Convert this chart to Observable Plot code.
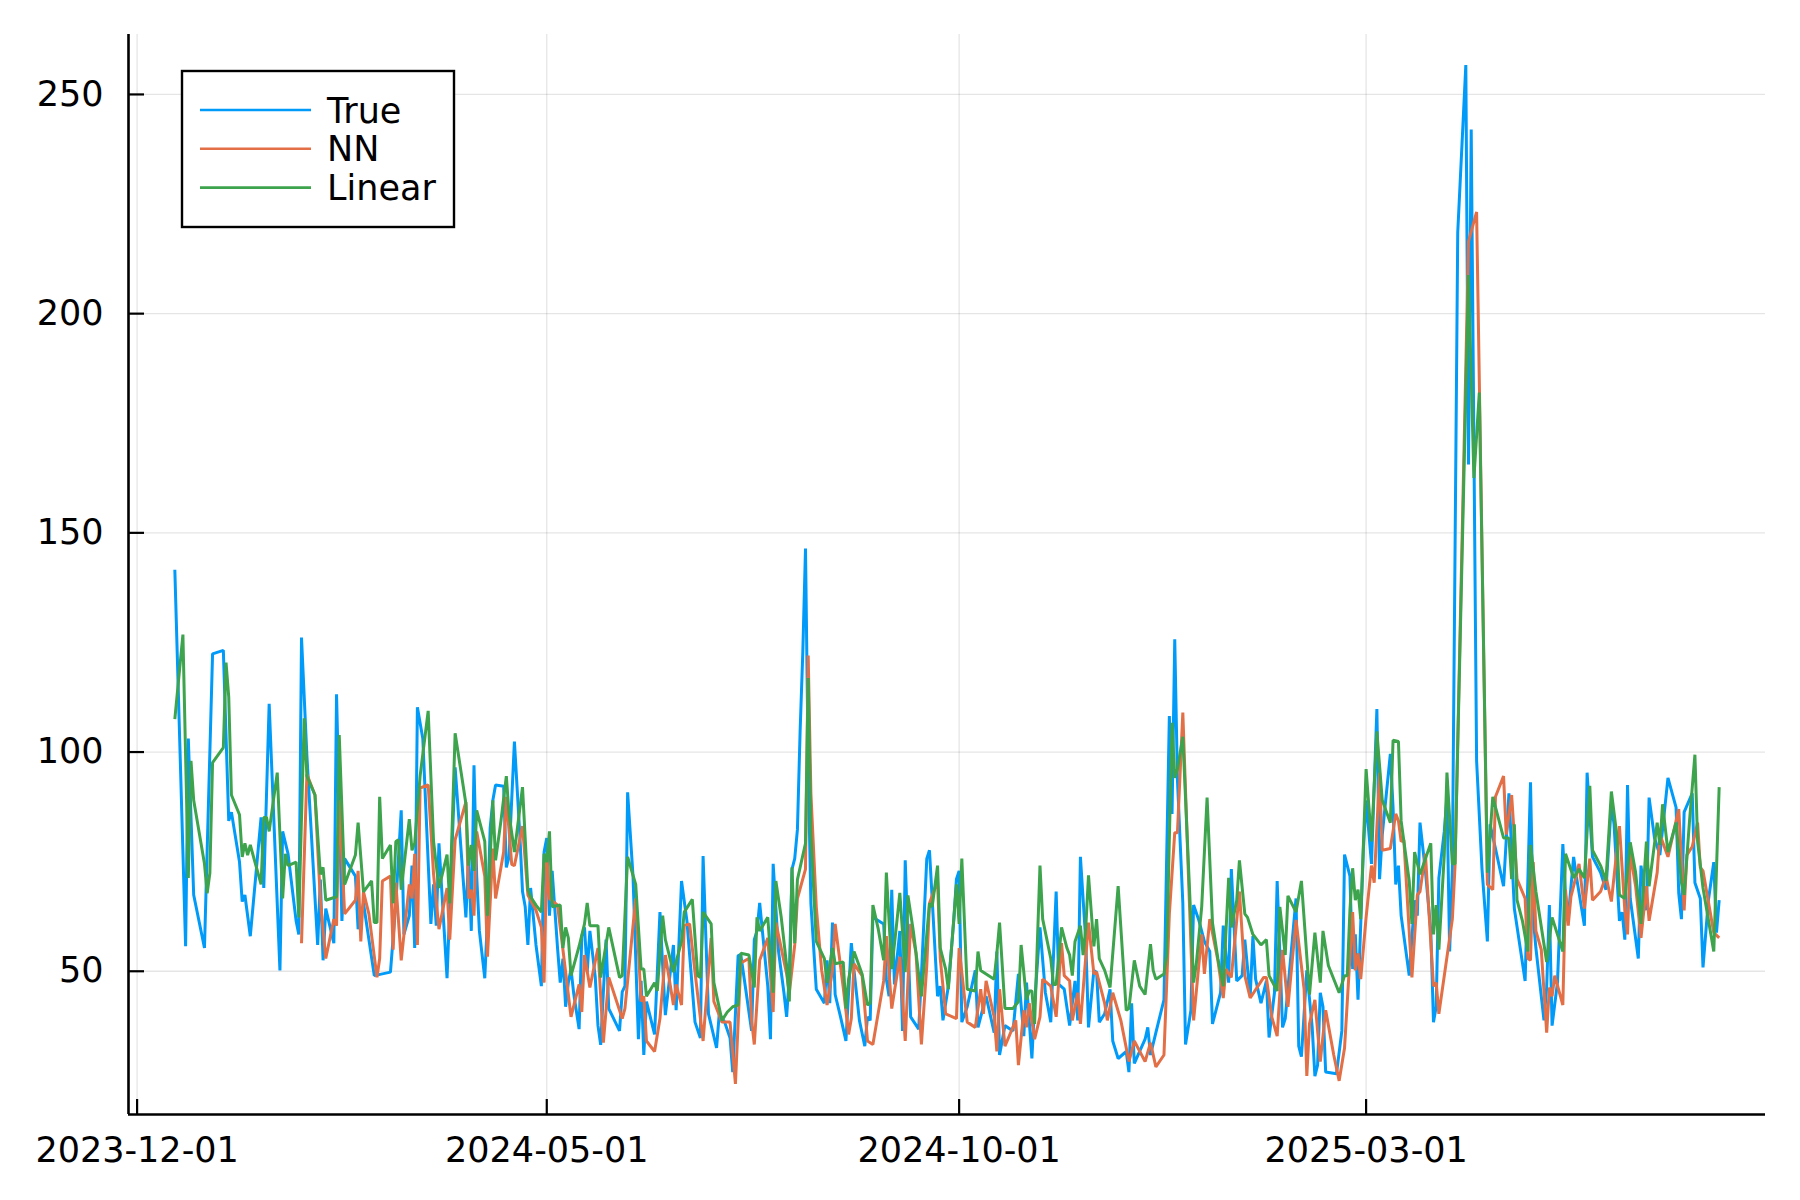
<!DOCTYPE html>
<html>
<head>
<meta charset="utf-8">
<script src="https://cdn.jsdelivr.net/npm/d3@7"></script>
<script src="https://cdn.jsdelivr.net/npm/@observablehq/plot@0.6"></script>
<style>
  body { margin: 0; background: #fff; }
  #chart { width: 1800px; height: 1200px; }
</style>
</head>
<body>
<div id="chart"></div>
<script>
const seriesNames = ["True", "NN", "Linear"];

const trueSeries = [["2023-12-15",141.6],["2023-12-19",55.7],["2023-12-20",103.1],["2023-12-22",67.4],["2023-12-26",55.3],["2023-12-29",122.4],["2024-01-02",123.2],["2024-01-04",84.3],["2024-01-05",86.3],["2024-01-08",74.9],["2024-01-09",65.9],["2024-01-10",67.4],["2024-01-12",58.0],["2024-01-16",85.1],["2024-01-17",69.0],["2024-01-19",111.0],["2024-01-23",50.2],["2024-01-24",81.9],["2024-01-26",76.8],["2024-01-29",61.5],["2024-01-30",58.4],["2024-01-31",126.1],["2024-02-02",99.2],["2024-02-06",56.0],["2024-02-07",70.9],["2024-02-08",52.5],["2024-02-09",64.3],["2024-02-12",56.4],["2024-02-13",113.2],["2024-02-15",61.5],["2024-02-16",75.7],["2024-02-20",71.7],["2024-02-21",59.6],["2024-02-23",65.5],["2024-02-27",49.0],["2024-03-04",49.8],["2024-03-06",65.5],["2024-03-08",86.7],["2024-03-09",58.4],["2024-03-11",62.7],["2024-03-12",74.1],["2024-03-13",55.3],["2024-03-14",110.2],["2024-03-16",103.1],["2024-03-19",60.8],["2024-03-20",69.8],["2024-03-21",60.4],["2024-03-22",79.2],["2024-03-25",48.4],["2024-03-28",96.5],["2024-04-01",62.3],["2024-04-02",76.5],["2024-04-03",59.2],["2024-04-04",97.0],["2024-04-05",71.7],["2024-04-06",59.2],["2024-04-08",48.4],["2024-04-09",62.3],["2024-04-10",82.7],["2024-04-11",89.0],["2024-04-12",92.5],["2024-04-15",92.2],["2024-04-16",73.7],["2024-04-17",76.1],["2024-04-19",102.4],["2024-04-21",81.2],["2024-04-22",68.2],["2024-04-23",64.7],["2024-04-24",56.0],["2024-04-25",69.0],["2024-04-27",56.0],["2024-04-29",46.6],["2024-04-30",77.2],["2024-05-01",80.4],["2024-05-02",62.7],["2024-05-03",72.9],["2024-05-05",55.3],["2024-05-06",47.4],["2024-05-07",52.9],["2024-05-08",41.9],["2024-05-09",47.4],["2024-05-10",50.5],["2024-05-11",44.9],["2024-05-13",36.8],["2024-05-14",58.0],["2024-05-15",60.0],["2024-05-16",49.8],["2024-05-17",59.2],["2024-05-19",48.6],["2024-05-20",37.6],["2024-05-21",33.2],["2024-05-23",57.2],["2024-05-24",41.5],["2024-05-28",36.4],["2024-05-29",45.3],["2024-05-30",46.6],["2024-05-31",90.8],["2024-06-02",71.7],["2024-06-04",34.5],["2024-06-05",47.8],["2024-06-06",30.9],["2024-06-07",43.1],["2024-06-10",35.6],["2024-06-12",63.5],["2024-06-13",51.3],["2024-06-14",40.0],["2024-06-17",56.0],["2024-06-18",41.1],["2024-06-20",70.6],["2024-06-22",61.5],["2024-06-25",38.4],["2024-06-27",34.8],["2024-06-28",76.3],["2024-06-30",40.3],["2024-07-03",32.5],["2024-07-04",40.3],["2024-07-06",38.4],["2024-07-08",34.8],["2024-07-09",27.0],["2024-07-11",53.6],["2024-07-12",53.7],["2024-07-14",45.1],["2024-07-16",36.4],["2024-07-17",57.2],["2024-07-18",59.2],["2024-07-19",65.6],["2024-07-20",59.2],["2024-07-22",46.6],["2024-07-23",34.5],["2024-07-24",74.5],["2024-07-26",54.5],["2024-07-28",45.1],["2024-07-29",39.6],["2024-07-30",49.0],["2024-07-31",73.3],["2024-08-01",75.7],["2024-08-02",82.3],["2024-08-03",104.7],["2024-08-04",122.8],["2024-08-05",146.4],["2024-08-06",96.9],["2024-08-07",65.5],["2024-08-09",45.9],["2024-08-12",42.7],["2024-08-13",52.5],["2024-08-14",42.7],["2024-08-15",61.1],["2024-08-16",44.7],["2024-08-18",39.6],["2024-08-20",34.1],["2024-08-22",56.4],["2024-08-23",50.2],["2024-08-25",38.8],["2024-08-27",32.9],["2024-08-28",39.6],["2024-08-29",38.8],["2024-08-30",62.3],["2024-09-03",60.8],["2024-09-04",48.2],["2024-09-05",44.3],["2024-09-06",68.6],["2024-09-07",47.0],["2024-09-09",59.2],["2024-09-10",36.4],["2024-09-11",75.3],["2024-09-13",39.6],["2024-09-16",36.8],["2024-09-17",49.0],["2024-09-19",75.7],["2024-09-20",77.6],["2024-09-23",44.3],["2024-09-24",46.6],["2024-09-25",38.8],["2024-09-27",46.6],["2024-09-29",61.5],["2024-09-30",71.0],["2024-10-01",72.9],["2024-10-02",38.4],["2024-10-04",41.9],["2024-10-07",50.2],["2024-10-08",37.2],["2024-10-11",44.3],["2024-10-14",36.0],["2024-10-15",54.5],["2024-10-16",30.9],["2024-10-18",37.6],["2024-10-21",36.4],["2024-10-23",49.4],["2024-10-25",35.2],["2024-10-26",47.4],["2024-10-27",38.8],["2024-10-28",30.1],["2024-10-29",42.7],["2024-10-31",60.0],["2024-11-02",45.1],["2024-11-04",38.4],["2024-11-06",68.2],["2024-11-07",47.0],["2024-11-09",45.9],["2024-11-11",37.6],["2024-11-13",47.8],["2024-11-14",38.8],["2024-11-15",76.1],["2024-11-17",56.8],["2024-11-18",37.2],["2024-11-20",50.2],["2024-11-21",49.8],["2024-11-22",38.4],["2024-11-24",40.3],["2024-11-26",45.9],["2024-11-27",34.1],["2024-11-29",30.1],["2024-12-02",31.7],["2024-12-03",27.0],["2024-12-04",42.7],["2024-12-05",29.0],["2024-12-09",34.5],["2024-12-10",37.2],["2024-12-11",30.9],["2024-12-13",36.0],["2024-12-16",43.5],["2024-12-18",108.2],["2024-12-19",85.9],["2024-12-20",125.7],["2024-12-21",93.7],["2024-12-23",65.5],["2024-12-24",33.3],["2024-12-26",41.1],["2024-12-27",65.1],["2024-12-29",61.5],["2024-12-31",56.8],["2025-01-02",54.5],["2025-01-03",38.0],["2025-01-06",45.1],["2025-01-07",60.4],["2025-01-09",47.4],["2025-01-10",73.3],["2025-01-12",47.8],["2025-01-14",49.0],["2025-01-15",57.2],["2025-01-17",44.3],["2025-01-18",58.0],["2025-01-19",48.2],["2025-01-21",42.7],["2025-01-23",47.8],["2025-01-24",34.9],["2025-01-26",45.1],["2025-01-27",70.6],["2025-01-29",37.2],["2025-01-30",39.2],["2025-02-03",66.6],["2025-02-04",32.9],["2025-02-05",30.5],["2025-02-07",50.2],["2025-02-09",37.2],["2025-02-10",26.1],["2025-02-11",28.6],["2025-02-12",45.1],["2025-02-13",41.9],["2025-02-14",27.0],["2025-02-18",26.6],["2025-02-20",36.4],["2025-02-21",76.6],["2025-02-23",71.7],["2025-02-24",50.5],["2025-02-25",58.4],["2025-02-26",43.5],["2025-02-28",78.0],["2025-03-01",89.0],["2025-03-03",74.5],["2025-03-05",109.8],["2025-03-06",71.0],["2025-03-07",81.2],["2025-03-10",99.6],["2025-03-11",87.4],["2025-03-12",69.8],["2025-03-13",74.1],["2025-03-14",62.7],["2025-03-17",49.0],["2025-03-19",66.2],["2025-03-20",62.7],["2025-03-21",83.9],["2025-03-23",72.9],["2025-03-25",59.2],["2025-03-26",38.4],["2025-03-27",41.9],["2025-03-28",71.3],["2025-03-30",81.9],["2025-03-31",89.8],["2025-04-01",54.5],["2025-04-02",73.3],["2025-04-04",218.5],["2025-04-07",256.7],["2025-04-08",165.6],["2025-04-09",242.0],["2025-04-11",98.0],["2025-04-13",73.3],["2025-04-15",56.8],["2025-04-16",83.5],["2025-04-18",78.0],["2025-04-21",69.4],["2025-04-23",90.6],["2025-04-25",64.3],["2025-04-29",47.8],["2025-05-01",93.1],["2025-05-02",62.3],["2025-05-03",55.3],["2025-05-06",38.8],["2025-05-07",46.3],["2025-05-08",65.1],["2025-05-09",37.6],["2025-05-11",47.4],["2025-05-13",79.0],["2025-05-14",67.4],["2025-05-15",62.3],["2025-05-17",76.1],["2025-05-18",71.7],["2025-05-21",60.4],["2025-05-22",95.3],["2025-05-24",76.1],["2025-05-27",72.5],["2025-05-29",68.6],["2025-05-31",88.2],["2025-06-01",83.5],["2025-06-03",61.5],["2025-06-04",63.5],["2025-06-05",57.2],["2025-06-06",92.5],["2025-06-07",66.6],["2025-06-10",52.9],["2025-06-11",74.1],["2025-06-13",63.9],["2025-06-14",89.6],["2025-06-16",80.4],["2025-06-18",76.5],["2025-06-21",94.1],["2025-06-24",87.4],["2025-06-25",67.8],["2025-06-26",61.9],["2025-06-27",86.3],["2025-06-30",90.6],["2025-07-01",70.2],["2025-07-03",66.6],["2025-07-04",50.9],["2025-07-06",66.2],["2025-07-08",74.9],["2025-07-09",58.8],["2025-07-10",66.2]];

const nnSeries = [["2024-01-31",56.4],["2024-02-02",94.9],["2024-02-05",90.2],["2024-02-07",66.2],["2024-02-09",52.9],["2024-02-12",61.9],["2024-02-13",60.4],["2024-02-14",89.0],["2024-02-16",63.1],["2024-02-20",66.2],["2024-02-21",72.9],["2024-02-22",56.8],["2024-02-23",68.1],["2024-02-25",63.1],["2024-02-28",48.6],["2024-02-29",52.9],["2024-03-01",70.6],["2024-03-04",71.7],["2024-03-05",54.9],["2024-03-06",70.2],["2024-03-08",52.5],["2024-03-11",69.8],["2024-03-12",66.6],["2024-03-13",76.8],["2024-03-14",56.0],["2024-03-15",91.8],["2024-03-18",92.5],["2024-03-20",72.1],["2024-03-22",59.6],["2024-03-25",69.0],["2024-03-26",57.2],["2024-03-28",80.0],["2024-04-01",88.6],["2024-04-02",66.6],["2024-04-03",68.6],["2024-04-04",62.7],["2024-04-05",81.9],["2024-04-08",71.7],["2024-04-09",53.3],["2024-04-11",78.0],["2024-04-12",66.6],["2024-04-15",77.2],["2024-04-16",89.8],["2024-04-18",74.4],["2024-04-19",74.1],["2024-04-22",83.1],["2024-04-24",67.4],["2024-04-27",63.9],["2024-04-29",60.0],["2024-04-30",47.4],["2024-05-01",76.5],["2024-05-02",66.6],["2024-05-05",65.1],["2024-05-07",54.9],["2024-05-10",39.6],["2024-05-13",47.0],["2024-05-14",40.7],["2024-05-15",53.7],["2024-05-17",46.3],["2024-05-20",55.3],["2024-05-22",33.7],["2024-05-24",48.6],["2024-05-29",39.2],["2024-05-30",41.5],["2024-06-03",66.6],["2024-06-05",43.1],["2024-06-06",44.3],["2024-06-07",34.1],["2024-06-10",31.7],["2024-06-12",39.2],["2024-06-14",53.7],["2024-06-17",42.3],["2024-06-18",47.0],["2024-06-20",42.3],["2024-06-21",60.4],["2024-06-23",60.8],["2024-06-25",49.8],["2024-06-28",34.1],["2024-07-01",57.6],["2024-07-02",43.1],["2024-07-05",38.4],["2024-07-08",38.4],["2024-07-10",24.3],["2024-07-12",51.9],["2024-07-15",52.9],["2024-07-16",38.8],["2024-07-17",33.3],["2024-07-19",52.5],["2024-07-22",57.6],["2024-07-24",40.7],["2024-07-25",61.1],["2024-07-29",49.4],["2024-07-30",45.1],["2024-08-01",56.0],["2024-08-02",66.6],["2024-08-05",73.3],["2024-08-06",122.0],["2024-08-07",90.6],["2024-08-09",64.7],["2024-08-11",50.2],["2024-08-13",42.3],["2024-08-15",50.2],["2024-08-16",60.8],["2024-08-19",46.3],["2024-08-21",35.6],["2024-08-22",39.2],["2024-08-23",51.7],["2024-08-26",49.0],["2024-08-28",34.1],["2024-08-30",33.3],["2024-09-03",47.8],["2024-09-04",58.0],["2024-09-06",41.5],["2024-09-09",53.3],["2024-09-11",34.1],["2024-09-13",60.8],["2024-09-15",54.1],["2024-09-17",33.3],["2024-09-19",51.3],["2024-09-20",65.5],["2024-09-23",70.6],["2024-09-24",52.9],["2024-09-26",40.3],["2024-09-30",39.2],["2024-10-01",55.3],["2024-10-04",38.4],["2024-10-07",37.2],["2024-10-09",45.9],["2024-10-10",40.3],["2024-10-11",47.8],["2024-10-14",39.6],["2024-10-15",31.7],["2024-10-16",45.9],["2024-10-18",32.9],["2024-10-22",38.8],["2024-10-23",28.6],["2024-10-25",41.1],["2024-10-26",37.2],["2024-10-27",42.7],["2024-10-29",34.5],["2024-10-31",39.6],["2024-11-01",48.2],["2024-11-04",46.6],["2024-11-06",39.6],["2024-11-08",56.4],["2024-11-09",49.0],["2024-11-11",47.8],["2024-11-12",38.8],["2024-11-14",45.1],["2024-11-15",38.0],["2024-11-18",61.1],["2024-11-20",49.4],["2024-11-21",49.8],["2024-11-24",42.7],["2024-11-25",38.8],["2024-11-27",45.1],["2024-11-30",38.8],["2024-12-03",29.4],["2024-12-05",34.1],["2024-12-09",29.4],["2024-12-11",33.7],["2024-12-13",28.2],["2024-12-16",30.9],["2024-12-18",63.1],["2024-12-20",81.6],["2024-12-21",81.6],["2024-12-23",109.0],["2024-12-25",73.3],["2024-12-27",38.8],["2024-12-30",58.4],["2024-12-31",49.4],["2025-01-02",61.9],["2025-01-05",52.5],["2025-01-07",43.9],["2025-01-08",50.5],["2025-01-10",48.6],["2025-01-13",68.2],["2025-01-15",49.0],["2025-01-17",43.9],["2025-01-22",48.6],["2025-01-23",48.6],["2025-01-25",39.6],["2025-01-27",35.2],["2025-01-29",54.9],["2025-01-31",41.9],["2025-02-03",61.7],["2025-02-06",45.9],["2025-02-07",26.1],["2025-02-08",38.0],["2025-02-10",43.5],["2025-02-12",29.4],["2025-02-14",41.1],["2025-02-17",30.9],["2025-02-19",25.0],["2025-02-21",32.5],["2025-02-24",63.5],["2025-02-25",50.2],["2025-02-26",54.1],["2025-02-27",48.2],["2025-03-01",62.3],["2025-03-03",74.1],["2025-03-04",70.2],["2025-03-06",95.3],["2025-03-07",77.6],["2025-03-10",78.0],["2025-03-12",85.9],["2025-03-13",84.3],["2025-03-14",79.6],["2025-03-15",80.0],["2025-03-18",48.6],["2025-03-20",67.4],["2025-03-21",68.2],["2025-03-23",76.8],["2025-03-26",46.6],["2025-03-27",47.4],["2025-03-28",40.3],["2025-04-02",61.9],["2025-04-03",74.1],["2025-04-08",216.5],["2025-04-11",223.2],["2025-04-15",69.8],["2025-04-17",68.6],["2025-04-18",89.8],["2025-04-21",94.5],["2025-04-22",81.2],["2025-04-24",90.2],["2025-04-26",71.0],["2025-04-29",66.6],["2025-04-30",52.9],["2025-05-01",52.5],["2025-05-02",74.9],["2025-05-03",59.2],["2025-05-05",54.9],["2025-05-07",36.0],["2025-05-08",46.3],["2025-05-09",44.3],["2025-05-10",49.0],["2025-05-13",42.3],["2025-05-14",68.6],["2025-05-15",60.4],["2025-05-16",67.0],["2025-05-17",69.4],["2025-05-19",74.5],["2025-05-21",64.3],["2025-05-23",75.7],["2025-05-24",66.2],["2025-05-27",68.2],["2025-05-29",71.7],["2025-05-31",65.9],["2025-06-03",83.1],["2025-06-05",63.9],["2025-06-06",58.4],["2025-06-07",76.8],["2025-06-09",69.4],["2025-06-11",57.6],["2025-06-13",69.4],["2025-06-14",61.5],["2025-06-17",72.5],["2025-06-18",81.2],["2025-06-21",76.1],["2025-06-25",87.0],["2025-06-27",63.9],["2025-06-28",76.5],["2025-06-30",78.4],["2025-07-02",83.9],["2025-07-03",73.7],["2025-07-04",72.9],["2025-07-08",58.8],["2025-07-10",57.6]];

const linearSeries = [["2023-12-15",107.5],["2023-12-18",126.8],["2023-12-20",71.3],["2023-12-21",98.0],["2023-12-22",89.0],["2023-12-26",74.5],["2023-12-27",67.8],["2023-12-28",72.4],["2023-12-29",97.6],["2024-01-02",101.0],["2024-01-03",120.4],["2024-01-04",112.6],["2024-01-05",90.2],["2024-01-08",85.7],["2024-01-09",76.1],["2024-01-10",79.2],["2024-01-11",76.5],["2024-01-12",78.8],["2024-01-16",69.8],["2024-01-17",85.1],["2024-01-18",85.1],["2024-01-19",81.9],["2024-01-22",95.3],["2024-01-24",66.6],["2024-01-25",76.8],["2024-01-26",74.1],["2024-01-29",74.9],["2024-01-30",62.3],["2024-02-01",107.7],["2024-02-02",94.5],["2024-02-05",90.2],["2024-02-07",72.1],["2024-02-08",73.7],["2024-02-09",66.2],["2024-02-13",67.0],["2024-02-14",103.9],["2024-02-16",69.8],["2024-02-20",76.5],["2024-02-21",83.9],["2024-02-23",68.1],["2024-02-26",70.6],["2024-02-27",61.1],["2024-02-28",61.1],["2024-02-29",89.8],["2024-03-01",75.7],["2024-03-04",78.8],["2024-03-05",65.5],["2024-03-06",79.6],["2024-03-07",80.0],["2024-03-08",68.6],["2024-03-11",84.7],["2024-03-12",77.6],["2024-03-13",79.2],["2024-03-15",94.5],["2024-03-18",109.4],["2024-03-20",79.6],["2024-03-22",69.0],["2024-03-25",76.6],["2024-03-26",65.5],["2024-03-28",104.3],["2024-04-01",88.2],["2024-04-02",74.1],["2024-04-03",78.8],["2024-04-04",72.9],["2024-04-05",86.7],["2024-04-08",79.6],["2024-04-09",62.7],["2024-04-11",89.0],["2024-04-12",75.3],["2024-04-14",84.3],["2024-04-16",94.5],["2024-04-17",85.9],["2024-04-19",77.2],["2024-04-22",92.0],["2024-04-24",68.6],["2024-04-25",67.0],["2024-04-27",65.1],["2024-04-29",63.5],["2024-04-30",76.8],["2024-05-01",74.9],["2024-05-02",81.9],["2024-05-03",64.7],["2024-05-06",65.1],["2024-05-07",55.3],["2024-05-08",60.0],["2024-05-09",57.6],["2024-05-10",49.0],["2024-05-13",55.7],["2024-05-15",60.8],["2024-05-16",65.6],["2024-05-17",60.4],["2024-05-20",60.4],["2024-05-21",48.6],["2024-05-24",60.0],["2024-05-28",48.6],["2024-05-29",49.0],["2024-05-31",76.1],["2024-06-03",69.8],["2024-06-05",50.5],["2024-06-06",50.5],["2024-06-07",44.3],["2024-06-10",47.4],["2024-06-11",45.5],["2024-06-13",62.7],["2024-06-14",57.2],["2024-06-17",49.8],["2024-06-20",56.8],["2024-06-21",63.5],["2024-06-24",66.4],["2024-06-26",49.0],["2024-06-27",48.6],["2024-06-28",63.5],["2024-07-01",60.8],["2024-07-02",47.4],["2024-07-05",38.8],["2024-07-07",40.7],["2024-07-09",41.9],["2024-07-11",42.3],["2024-07-12",54.1],["2024-07-15",53.7],["2024-07-17",46.3],["2024-07-18",62.3],["2024-07-19",59.2],["2024-07-22",62.3],["2024-07-24",45.1],["2024-07-25",70.6],["2024-07-27",62.3],["2024-07-29",51.3],["2024-07-30",43.1],["2024-07-31",73.7],["2024-08-01",56.4],["2024-08-02",70.9],["2024-08-05",79.2],["2024-08-06",116.9],["2024-08-07",81.2],["2024-08-09",56.8],["2024-08-12",52.9],["2024-08-13",47.4],["2024-08-15",55.3],["2024-08-16",51.7],["2024-08-19",52.1],["2024-08-20",41.5],["2024-08-21",48.2],["2024-08-23",54.5],["2024-08-26",49.4],["2024-08-28",42.3],["2024-08-29",42.7],["2024-08-30",65.1],["2024-09-01",59.6],["2024-09-03",52.5],["2024-09-04",72.5],["2024-09-06",50.5],["2024-09-08",61.9],["2024-09-09",67.9],["2024-09-11",49.8],["2024-09-12",67.3],["2024-09-14",59.2],["2024-09-17",44.3],["2024-09-20",65.5],["2024-09-21",64.7],["2024-09-23",74.1],["2024-09-24",55.3],["2024-09-26",50.5],["2024-09-27",45.9],["2024-09-30",69.8],["2024-10-01",60.8],["2024-10-02",75.7],["2024-10-04",45.9],["2024-10-07",45.5],["2024-10-08",54.5],["2024-10-09",50.2],["2024-10-11",49.4],["2024-10-14",48.2],["2024-10-15",54.1],["2024-10-16",61.1],["2024-10-18",41.5],["2024-10-21",41.5],["2024-10-23",43.1],["2024-10-24",56.0],["2024-10-26",43.5],["2024-10-27",45.5],["2024-10-28",45.5],["2024-10-29",38.0],["2024-10-31",74.1],["2024-11-01",61.9],["2024-11-04",52.9],["2024-11-05",47.0],["2024-11-06",47.0],["2024-11-08",60.0],["2024-11-10",55.3],["2024-11-11",53.7],["2024-11-12",49.0],["2024-11-13",56.8],["2024-11-15",60.4],["2024-11-16",53.7],["2024-11-17",60.0],["2024-11-18",71.9],["2024-11-20",55.7],["2024-11-21",61.9],["2024-11-22",52.9],["2024-11-24",50.2],["2024-11-26",46.3],["2024-11-29",69.4],["2024-12-02",41.1],["2024-12-03",41.5],["2024-12-05",52.5],["2024-12-07",46.6],["2024-12-09",44.7],["2024-12-11",56.2],["2024-12-12",50.2],["2024-12-13",48.2],["2024-12-16",49.4],["2024-12-17",53.7],["2024-12-19",106.7],["2024-12-20",94.1],["2024-12-21",96.1],["2024-12-23",103.5],["2024-12-27",47.4],["2024-12-28",51.7],["2024-12-30",64.7],["2025-01-01",89.6],["2025-01-03",61.1],["2025-01-05",52.9],["2025-01-07",46.6],["2025-01-09",71.3],["2025-01-10",60.0],["2025-01-12",66.2],["2025-01-13",75.3],["2025-01-15",63.1],["2025-01-16",62.3],["2025-01-18",58.4],["2025-01-21",56.0],["2025-01-23",57.2],["2025-01-24",49.0],["2025-01-27",45.5],["2025-01-28",64.7],["2025-01-30",53.7],["2025-01-31",67.2],["2025-02-03",63.5],["2025-02-05",70.6],["2025-02-08",44.7],["2025-02-10",58.8],["2025-02-12",47.4],["2025-02-13",59.2],["2025-02-15",51.3],["2025-02-19",45.1],["2025-02-21",49.0],["2025-02-22",49.0],["2025-02-23",63.9],["2025-02-24",73.5],["2025-02-25",66.2],["2025-02-26",68.6],["2025-02-27",61.9],["2025-03-01",96.1],["2025-03-03",79.6],["2025-03-05",104.7],["2025-03-07",89.0],["2025-03-10",83.9],["2025-03-11",102.7],["2025-03-13",102.4],["2025-03-14",84.3],["2025-03-17",70.6],["2025-03-18",60.8],["2025-03-19",77.2],["2025-03-21",72.1],["2025-03-25",79.2],["2025-03-26",58.4],["2025-03-27",65.1],["2025-03-28",54.9],["2025-03-30",76.5],["2025-03-31",95.3],["2025-04-02",74.5],["2025-04-03",74.5],["2025-04-08",208.8],["2025-04-10",162.5],["2025-04-12",182.0],["2025-04-15",72.5],["2025-04-17",89.8],["2025-04-21",80.4],["2025-04-23",80.4],["2025-04-24",71.0],["2025-04-25",83.5],["2025-04-26",66.2],["2025-04-28",61.5],["2025-04-30",54.5],["2025-05-01",78.8],["2025-05-03",68.2],["2025-05-07",52.1],["2025-05-09",62.3],["2025-05-13",54.5],["2025-05-14",76.8],["2025-05-17",71.3],["2025-05-19",73.3],["2025-05-21",71.3],["2025-05-23",92.3],["2025-05-24",77.6],["2025-05-27",74.1],["2025-05-29",70.6],["2025-05-31",91.0],["2025-06-02",81.2],["2025-06-03",67.4],["2025-06-05",66.6],["2025-06-07",79.4],["2025-06-09",72.5],["2025-06-11",60.8],["2025-06-13",79.6],["2025-06-14",69.4],["2025-06-17",83.9],["2025-06-18",78.8],["2025-06-19",88.1],["2025-06-21",77.2],["2025-06-24",83.9],["2025-06-26",70.2],["2025-06-27",67.4],["2025-06-29",84.3],["2025-07-01",99.4],["2025-07-02",79.6],["2025-07-04",69.0],["2025-07-08",54.5],["2025-07-10",92.0]];

const xTickLabels = ["2023-12-01", "2024-05-01", "2024-10-01", "2025-03-01"];
const yTickValues = [50, 100, 150, 200, 250];

// styles
const seriesColors = ["#009af9", "#e26f46", "#3da44d"];
const FONT = "DejaVu Sans";
const FS = 35;

const parse = d3.utcParse("%Y-%m-%d");
const seriesData = [trueSeries, nnSeries, linearSeries];
const rows = [];
seriesData.forEach((arr, i) => arr.forEach(([d, v]) => rows.push({series: seriesNames[i], date: parse(d), value: v})));

// Julia-style 3% padding on each side of the data extent
const xExt = d3.extent(rows, d => d.date);
const xPad = (xExt[1] - xExt[0]) * 0.03;
const xDomain = [new Date(+xExt[0] - xPad), new Date(+xExt[1] + xPad)];
const yExt = d3.extent(rows, d => d.value);
const yPad = (yExt[1] - yExt[0]) * 0.03;
const yDomain = [yExt[0] - yPad, yExt[1] + yPad];
const xTicks = xTickLabels.map(parse);

const lineMarks = seriesNames.map((name, i) =>
  Plot.lineY(rows.filter(r => r.series === name), {
    x: "date", y: "value", stroke: seriesColors[i], strokeWidth: 3,
    strokeLinejoin: "bevel", strokeLinecap: "butt"
  })
);

const plot = Plot.plot({
  width: 1800,
  height: 1200,
  marginLeft: 128,
  marginRight: 35,
  marginTop: 34,
  marginBottom: 86,
  style: {fontFamily: FONT, fontSize: FS + "px", background: "#fff", color: "#000", overflow: "visible"},
  x: {type: "utc", domain: xDomain},
  y: {domain: yDomain},
  marks: [
    Plot.gridX(xTicks, {stroke: "#000", strokeOpacity: 0.1, strokeWidth: 1.3}),
    Plot.gridY(yTickValues, {stroke: "#000", strokeOpacity: 0.1, strokeWidth: 1.3}),
    ...lineMarks,
    Plot.ruleX([xDomain[0]], {stroke: "#000", strokeWidth: 2.6}),
    Plot.ruleY([yDomain[0]], {stroke: "#000", strokeWidth: 2.6}),
    Plot.axisX(xTicks, {tickSize: 15, dy: -15, fill: "none", stroke: "#000", strokeWidth: 2.2, label: null}),
    Plot.axisX(xTicks, {tickSize: 0, tickPadding: 23, tickFormat: d3.utcFormat("%Y-%m-%d"), label: null, fontSize: FS, fill: "#000"}),
    Plot.axisY(yTickValues, {tickSize: 16, dx: 16, fill: "none", stroke: "#000", strokeWidth: 2.2, label: null}),
    Plot.axisY(yTickValues, {tickSize: 0, tickPadding: 25, label: null, fontSize: FS, fill: "#000"})
  ]
});

// legend box inside the plot area (top-left)
const svg = d3.select(plot);
const lg = svg.append("g").attr("font-family", FONT).attr("font-size", FS).attr("text-anchor", "start");
lg.append("rect").attr("x", 182).attr("y", 71).attr("width", 272).attr("height", 156)
  .attr("fill", "#fff").attr("stroke", "#000").attr("stroke-width", 2.4);
seriesNames.forEach((name, i) => {
  const cy = 110 + i * 38.8;
  lg.append("line").attr("x1", 200).attr("x2", 311).attr("y1", cy).attr("y2", cy)
    .attr("stroke", seriesColors[i]).attr("stroke-width", 2.6);
  lg.append("text").attr("x", 327).attr("y", cy + 12.5).attr("fill", "#000")
    .attr("text-anchor", "start").text(name);
});

document.getElementById("chart").appendChild(plot);
</script>
</body>
</html>
